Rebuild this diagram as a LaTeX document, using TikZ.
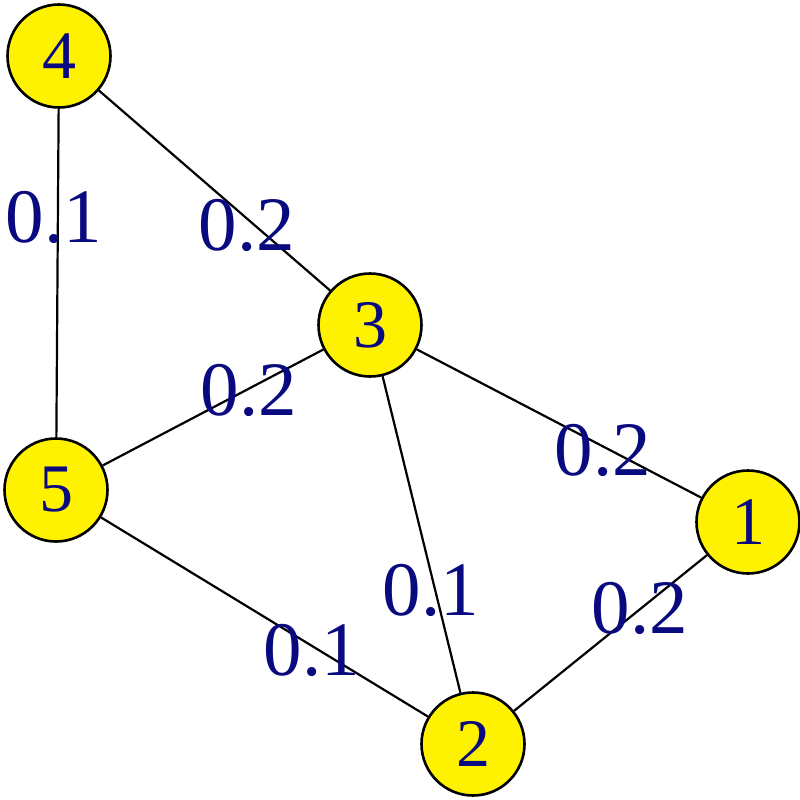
\documentclass[tikz,border=0pt]{standalone}
\usepackage{fontspec}
\setmainfont{Liberation Serif}
\definecolor{navy}{RGB}{10,10,128}
\begin{document}
\begin{tikzpicture}[x=1pt,y=-1pt,
  vertex/.style={circle,draw=black,line width=2.6pt,fill=yellow,minimum size=103pt,inner sep=0pt,
    text=navy,font=\fontsize{68}{68}\selectfont},
  edge/.style={draw=black,line width=2.2pt},
  wlabel/.style={text=navy,font=\fontsize{77}{77}\selectfont,inner sep=0pt}]
\useasboundingbox (0,0) rectangle (800,800);
\node[vertex] (n4) at (59,56) {4};
\node[vertex] (n3) at (370,325) {3};
\node[vertex] (n5) at (56,490) {5};
\node[vertex] (n1) at (748,522) {1};
\node[vertex] (n2) at (473,744) {2};
\draw[edge] (n4) -- (n5);
\draw[edge] (n4) -- (n3);
\draw[edge] (n5) -- (n3);
\draw[edge] (n3) -- (n1);
\draw[edge] (n3) -- (n2);
\draw[edge] (n1) -- (n2);
\draw[edge] (n5) -- (n2);
\node[wlabel] (l45) at (54,217) {0.1};
\node[wlabel] (l43) at (247,225) {0.2};
\node[wlabel] (l53) at (249,390) {0.2};
\node[wlabel] (l31) at (603,450) {0.2};
\node[wlabel] (l32) at (431,590) {0.1};
\node[wlabel] (l12) at (640,608) {0.2};
\node[wlabel] (l52) at (312,650) {0.1};
\end{tikzpicture}
\end{document}
